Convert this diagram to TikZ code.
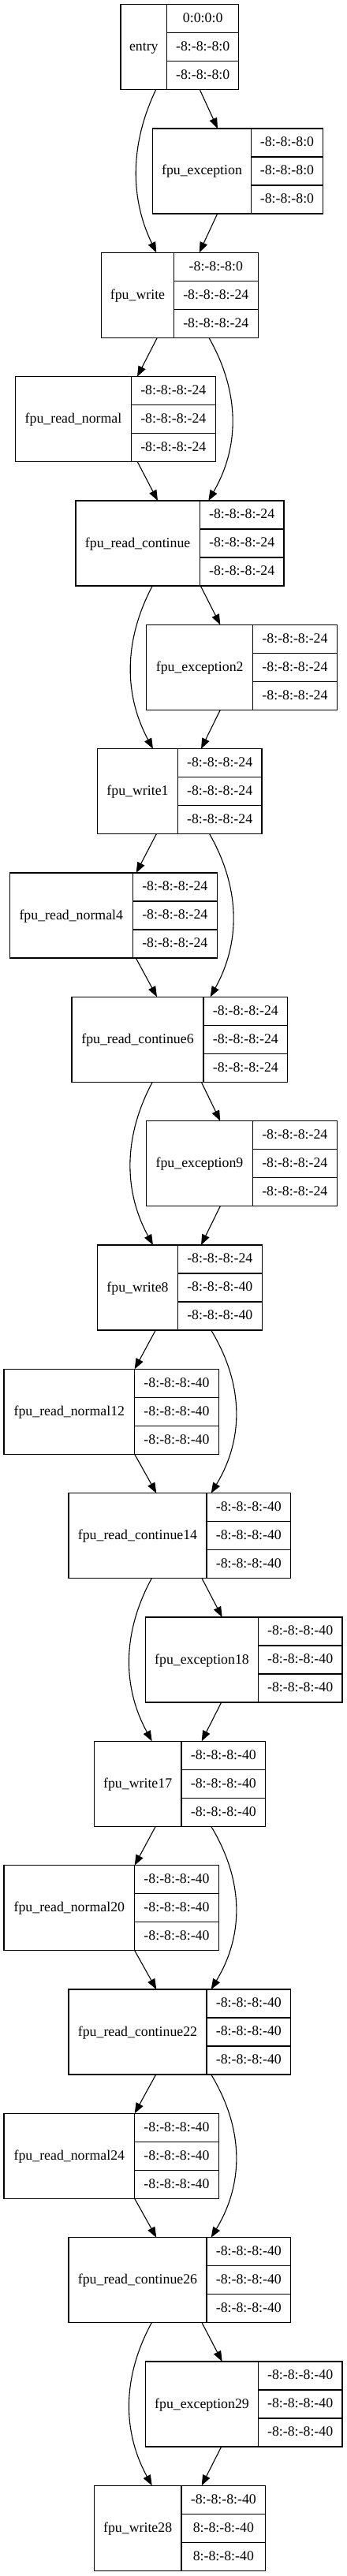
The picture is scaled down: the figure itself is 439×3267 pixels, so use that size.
\documentclass[tikz,border=0pt]{standalone}
\usepackage{fontspec}
\setmainfont{Liberation Serif}
\usetikzlibrary{arrows.meta}
\tikzset{
  recbox/.style={draw, line width=1.1pt, inner sep=0pt, outer sep=0pt, minimum height=108pt, anchor=north west},
  divline/.style={line width=1.1pt},
  txt/.style={inner sep=0pt, anchor=base, font=\fontsize{17.8}{20}\selectfont},
  arr/.style={line width=1.1pt, -{Triangle[length=13.3pt,width=10pt]}},
}
\newcommand\rec[9]{%
  \expandafter\xdef\csname recx@#1\endcsname{#2}%
  \node[recbox, minimum width={#3-#2}] (#1) at (#2,#5) {};
  \draw[divline] (#4,#5) -- (#4,{#5+108});
  \draw[divline] (#4,{#5+36}) -- (#3,{#5+36});
  \draw[divline] (#4,{#5+72}) -- (#3,{#5+72});
  \node[txt] (#1-l) at ({(#2+#4)/2},{#5+59}) {#6};
  \node[txt] (#1-a) at ({(#4+#3)/2},{#5+22.8}) {#7};
  \node[txt] (#1-b) at ({(#4+#3)/2},{#5+58.8}) {#8};
  \node[txt] (#1-c) at ({(#4+#3)/2},{#5+94.8}) {#9};
}
\newcommand\sedge[4]{\draw[arr] ([xshift={#2-\csname recx@#1\endcsname}]#1.south west) -- ([xshift={#4-\csname recx@#3\endcsname}]#3.north west);}
\newcommand\cedge[5]{\draw[arr] ([xshift={#2-\csname recx@#1\endcsname}]#1.south west) .. controls +({#5-#2},69) and +({#5-#4},-69) .. ([xshift={#4-\csname recx@#3\endcsname}]#3.north west);}
\begin{document}
\begin{tikzpicture}[x=1pt,y=-1pt]
\useasboundingbox (0,0) rectangle (439,3267);
\def\mz{-8:-8:-8:0}
\def\mt{-8:-8:-8:-24}
\def\mf{-8:-8:-8:-40}
\rec{entry}{153}{302.7}{211.7}{5.7}{entry}{0:0:0:0}{\mz}{\mz}
\rec{exc}{193.3}{409.3}{318.7}{163.0}{fpu\_exception}{\mz}{\mz}{\mz}
\rec{wr}{128.7}{327.3}{220.3}{320.4}{fpu\_write}{\mz}{\mt}{\mt}
\rec{rn}{19.7}{273.3}{166.3}{477.7}{fpu\_read\_normal}{\mt}{\mt}{\mt}
\rec{rc}{96}{360}{253.3}{635.0}{fpu\_read\_continue}{\mt}{\mt}{\mt}
\rec{exc2}{185.7}{427.3}{320.7}{792.4}{fpu\_exception2}{\mt}{\mt}{\mt}
\rec{wr1}{123.7}{332}{225.3}{949.7}{fpu\_write1}{\mt}{\mt}{\mt}
\rec{rn4}{12.3}{275.3}{168.3}{1107.0}{fpu\_read\_normal4}{\mt}{\mt}{\mt}
\rec{rc6}{91}{364.7}{258}{1264.3}{fpu\_read\_continue6}{\mt}{\mt}{\mt}
\rec{exc9}{185.7}{427.3}{320.3}{1421.7}{fpu\_exception9}{\mt}{\mt}{\mt}
\rec{wr8}{123.7}{332.3}{225.3}{1579.0}{fpu\_write8}{\mt}{\mf}{\mf}
\rec{rn12}{5}{277.3}{170.7}{1736.3}{fpu\_read\_normal12}{\mf}{\mf}{\mf}
\rec{rc14}{87}{368.7}{262}{1893.7}{fpu\_read\_continue14}{\mf}{\mf}{\mf}
\rec{exc18}{184.7}{434}{327.3}{2051.0}{fpu\_exception18}{\mf}{\mf}{\mf}
\rec{wr17}{119.3}{336.7}{230}{2208.3}{fpu\_write17}{\mf}{\mf}{\mf}
\rec{rn20}{5}{277.3}{170.7}{2365.7}{fpu\_read\_normal20}{\mf}{\mf}{\mf}
\rec{rc22}{87}{368.7}{262}{2523.0}{fpu\_read\_continue22}{\mf}{\mf}{\mf}
\rec{rn24}{5}{277.3}{170.7}{2680.3}{fpu\_read\_normal24}{\mf}{\mf}{\mf}
\rec{rc26}{87}{368.7}{262}{2837.7}{fpu\_read\_continue26}{\mf}{\mf}{\mf}
\rec{exc29}{184.7}{434}{327.3}{2995.0}{fpu\_exception29}{\mf}{\mf}{\mf}
\rec{wr28}{119.3}{336.7}{230}{3152.3}{fpu\_write28}{\mf}{8:-8:-8:-40}{8:-8:-8:-40}
% edges
\cedge{entry}{197.7}{wr}{198.3}{164.7}
\sedge{entry}{253.3}{exc}{276}
\sedge{exc}{275.7}{wr}{252.7}
\sedge{wr}{199.3}{rn}{174}
\cedge{wr}{265}{rc}{264.3}{304.2}
\sedge{rn}{174.3}{rc}{200}
\cedge{rc}{193.3}{wr1}{194}{156.8}
\sedge{rc}{254.3}{exc2}{279.3}
\sedge{exc2}{279.3}{wr1}{255}
\sedge{wr1}{198.3}{rn4}{172.7}
\cedge{wr1}{265.7}{rc6}{266.7}{305}
\sedge{rn4}{172.3}{rc6}{199}
\sedge{rc6}{255.3}{exc9}{279.3}
\cedge{rc6}{193.3}{wr8}{194}{156.4}
\sedge{exc9}{279.3}{wr8}{255}
\sedge{wr8}{197.3}{rn12}{170.7}
\cedge{wr8}{267.7}{rc14}{267.7}{309.4}
\sedge{rn12}{170.7}{rc14}{198.3}
\sedge{rc14}{256}{exc18}{281.7}
\cedge{rc14}{192.3}{wr17}{192.7}{154.9}
\sedge{exc18}{280.7}{wr17}{255.7}
\sedge{wr17}{197.3}{rn20}{170.7}
\cedge{wr17}{267.7}{rc22}{267.7}{309.4}
\sedge{rn20}{170.7}{rc22}{198.3}
\sedge{rc22}{197.7}{rn24}{170.7}
\cedge{rc22}{267.7}{rc26}{267.7}{309.4}
\sedge{rn24}{170.7}{rc26}{198.3}
\sedge{rc26}{256}{exc29}{281.7}
\cedge{rc26}{192.3}{wr28}{192.7}{154.9}
\sedge{exc29}{280.7}{wr28}{255.7}
\end{tikzpicture}
\end{document}
